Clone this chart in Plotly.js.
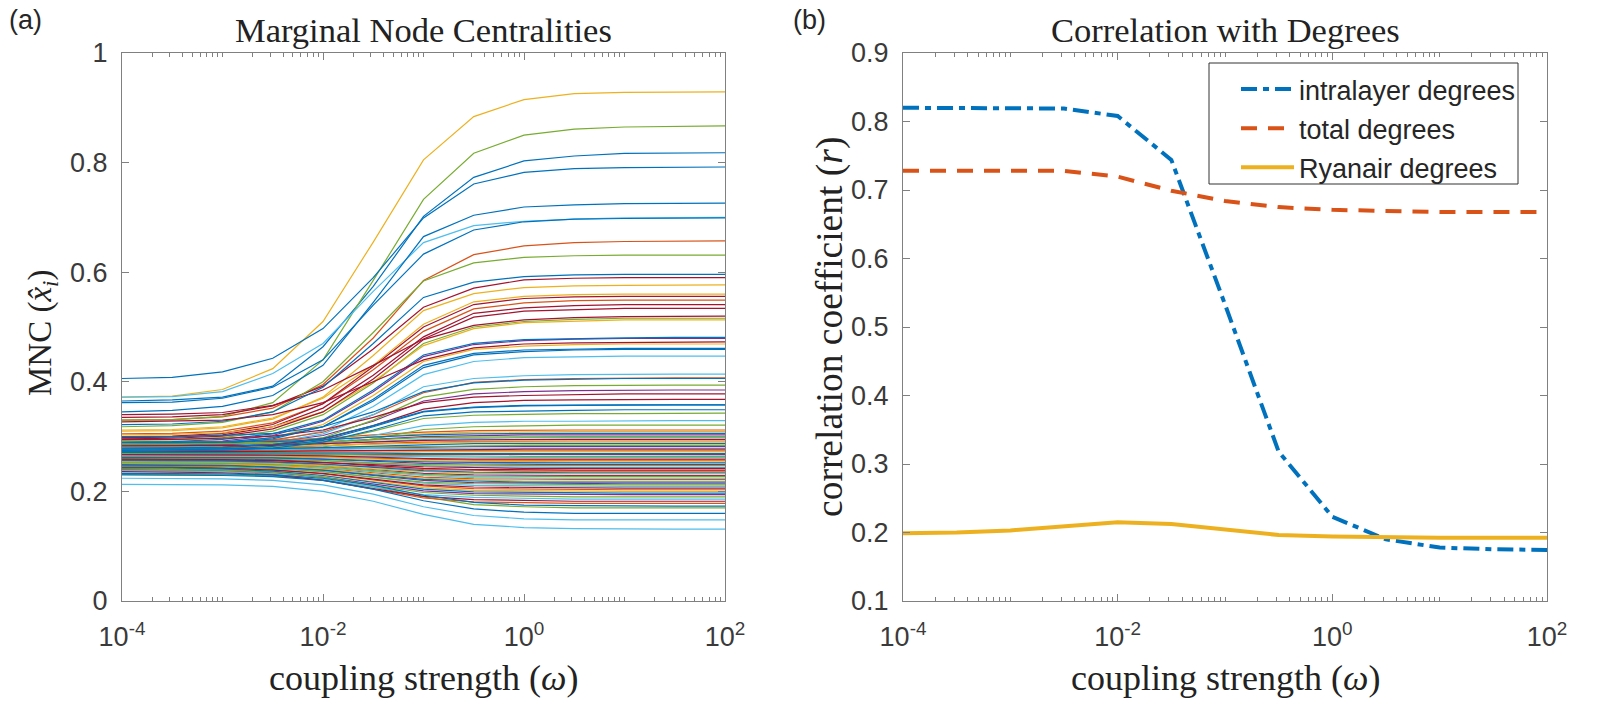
<!DOCTYPE html>
<html>
<head>
<meta charset="utf-8">
<script src="https://cdn.plot.ly/plotly-3.0.1.min.js"></script>
<style>
  html, body { margin: 0; padding: 0; background: #ffffff; }
  #chart { width: 1603px; height: 705px; }
</style>
</head>
<body>
<div id="chart"></div>
<script>
// Coupling strengths, half-decade steps from 10^-4 to 10^2
const omega = [1e-4, 3.1623e-4, 1e-3, 3.1623e-3, 1e-2, 3.1623e-2, 0.1, 0.31623, 1, 3.1623, 10, 31.623, 100];

// Marginal node centralities, one row per airport, grouped by the colour they are drawn in
const mncBlue = [
  [0.365,0.367,0.372,0.392,0.464,0.574,0.702,0.773,0.803,0.812,0.817,0.818,0.818],
  [0.406,0.408,0.418,0.443,0.497,0.590,0.699,0.761,0.782,0.789,0.791,0.792,0.792],
  [0.345,0.348,0.355,0.375,0.430,0.545,0.665,0.704,0.719,0.723,0.725,0.726,0.726],
  [0.362,0.363,0.370,0.390,0.440,0.540,0.633,0.677,0.692,0.697,0.698,0.699,0.699],
  [0.322,0.323,0.328,0.345,0.390,0.470,0.554,0.582,0.592,0.595,0.596,0.596,0.596],
  [0.290,0.291,0.295,0.305,0.330,0.385,0.449,0.470,0.477,0.479,0.480,0.481,0.481],
  [0.283,0.284,0.287,0.296,0.318,0.368,0.430,0.452,0.458,0.460,0.461,0.461,0.461],
  [0.286,0.287,0.290,0.298,0.318,0.365,0.426,0.449,0.455,0.458,0.459,0.459,0.459],
  [0.300,0.300,0.302,0.306,0.318,0.345,0.382,0.398,0.403,0.405,0.406,0.406,0.406],
  [0.275,0.276,0.277,0.282,0.293,0.318,0.345,0.353,0.356,0.357,0.358,0.358,0.358],
  [0.279,0.279,0.281,0.286,0.297,0.320,0.346,0.354,0.357,0.358,0.358,0.358,0.358],
  [0.273,0.274,0.275,0.279,0.290,0.312,0.338,0.345,0.347,0.348,0.349,0.349,0.349],
  [0.289,0.289,0.290,0.291,0.294,0.299,0.303,0.305,0.306,0.306,0.306,0.306,0.306],
  [0.277,0.277,0.277,0.278,0.280,0.283,0.285,0.287,0.287,0.287,0.287,0.287,0.287],
  [0.271,0.271,0.271,0.271,0.270,0.270,0.269,0.269,0.269,0.269,0.269,0.269,0.269],
  [0.262,0.262,0.262,0.261,0.259,0.256,0.254,0.253,0.252,0.252,0.252,0.252,0.252],
  [0.257,0.257,0.256,0.254,0.250,0.244,0.238,0.235,0.234,0.234,0.234,0.234,0.234],
  [0.248,0.248,0.247,0.244,0.239,0.230,0.222,0.219,0.217,0.217,0.217,0.217,0.217],
  [0.243,0.243,0.241,0.237,0.229,0.216,0.204,0.199,0.198,0.197,0.197,0.197,0.197],
  [0.230,0.230,0.229,0.227,0.220,0.204,0.183,0.168,0.162,0.160,0.160,0.160,0.160],
  [0.233,0.233,0.232,0.230,0.224,0.211,0.193,0.180,0.175,0.174,0.173,0.173,0.173]
];
const mncOrange = [
  [0.330,0.331,0.336,0.352,0.395,0.480,0.585,0.632,0.648,0.654,0.656,0.657,0.657],
  [0.305,0.306,0.310,0.325,0.360,0.422,0.492,0.533,0.544,0.548,0.549,0.549,0.549],
  [0.285,0.286,0.288,0.294,0.308,0.340,0.380,0.399,0.404,0.406,0.407,0.407,0.407],
  [0.290,0.290,0.291,0.293,0.297,0.303,0.308,0.311,0.312,0.312,0.312,0.312,0.312],
  [0.279,0.279,0.280,0.281,0.283,0.287,0.290,0.291,0.292,0.292,0.292,0.292,0.292],
  [0.274,0.274,0.274,0.274,0.274,0.274,0.274,0.274,0.274,0.274,0.274,0.274,0.274],
  [0.264,0.264,0.264,0.263,0.262,0.260,0.258,0.257,0.257,0.257,0.257,0.257,0.257],
  [0.256,0.256,0.255,0.254,0.250,0.245,0.240,0.238,0.237,0.237,0.237,0.237,0.237],
  [0.250,0.250,0.249,0.247,0.242,0.234,0.226,0.223,0.222,0.222,0.222,0.222,0.222],
  [0.245,0.245,0.243,0.240,0.232,0.221,0.210,0.205,0.204,0.203,0.203,0.203,0.203],
  [0.239,0.238,0.237,0.232,0.221,0.204,0.188,0.181,0.179,0.178,0.178,0.178,0.178]
];
const mncYellow = [
  [0.372,0.374,0.386,0.424,0.510,0.655,0.805,0.884,0.915,0.926,0.928,0.929,0.929],
  [0.310,0.311,0.316,0.332,0.372,0.448,0.530,0.561,0.572,0.575,0.576,0.577,0.577],
  [0.312,0.313,0.318,0.334,0.370,0.430,0.505,0.546,0.556,0.559,0.560,0.560,0.560],
  [0.303,0.304,0.307,0.318,0.345,0.400,0.466,0.497,0.508,0.511,0.513,0.513,0.513],
  [0.284,0.285,0.288,0.298,0.322,0.375,0.437,0.459,0.465,0.468,0.469,0.469,0.469],
  [0.287,0.287,0.288,0.290,0.294,0.300,0.305,0.308,0.309,0.309,0.309,0.309,0.309],
  [0.281,0.281,0.281,0.282,0.284,0.286,0.289,0.290,0.290,0.290,0.290,0.290,0.290],
  [0.270,0.270,0.270,0.270,0.271,0.271,0.272,0.272,0.272,0.272,0.272,0.272,0.272],
  [0.265,0.265,0.265,0.264,0.262,0.259,0.256,0.255,0.254,0.254,0.254,0.254,0.254],
  [0.254,0.254,0.253,0.251,0.247,0.241,0.236,0.233,0.232,0.232,0.232,0.232,0.232],
  [0.251,0.251,0.250,0.247,0.241,0.232,0.224,0.221,0.219,0.219,0.219,0.219,0.219],
  [0.242,0.242,0.240,0.237,0.229,0.218,0.207,0.202,0.201,0.200,0.200,0.200,0.200]
];
const mncPurple = [
  [0.288,0.289,0.292,0.302,0.328,0.382,0.446,0.468,0.475,0.478,0.479,0.479,0.479],
  [0.282,0.283,0.285,0.290,0.302,0.328,0.365,0.378,0.382,0.384,0.385,0.385,0.385],
  [0.284,0.284,0.285,0.286,0.290,0.295,0.300,0.302,0.303,0.303,0.303,0.303,0.303],
  [0.275,0.275,0.275,0.276,0.277,0.279,0.281,0.282,0.282,0.282,0.282,0.282,0.282],
  [0.268,0.268,0.268,0.268,0.268,0.267,0.267,0.267,0.267,0.267,0.267,0.267,0.267],
  [0.263,0.263,0.262,0.261,0.259,0.255,0.251,0.250,0.249,0.249,0.249,0.249,0.249],
  [0.255,0.255,0.254,0.252,0.247,0.240,0.233,0.230,0.229,0.229,0.229,0.229,0.229],
  [0.249,0.249,0.248,0.245,0.239,0.229,0.220,0.216,0.215,0.214,0.214,0.214,0.214],
  [0.240,0.240,0.238,0.234,0.226,0.213,0.201,0.196,0.195,0.194,0.194,0.194,0.194]
];
const mncGreen = [
  [0.330,0.331,0.337,0.362,0.440,0.585,0.733,0.817,0.850,0.861,0.865,0.866,0.867],
  [0.318,0.320,0.326,0.345,0.400,0.490,0.584,0.617,0.627,0.630,0.631,0.631,0.631],
  [0.293,0.294,0.298,0.310,0.340,0.398,0.470,0.500,0.510,0.514,0.516,0.516,0.516],
  [0.276,0.277,0.279,0.285,0.298,0.330,0.372,0.386,0.391,0.393,0.394,0.394,0.394],
  [0.274,0.275,0.276,0.280,0.290,0.310,0.333,0.339,0.341,0.342,0.342,0.343,0.343],
  [0.270,0.270,0.271,0.274,0.281,0.296,0.313,0.318,0.320,0.321,0.321,0.321,0.321],
  [0.231,0.231,0.230,0.228,0.222,0.208,0.190,0.176,0.172,0.170,0.170,0.170,0.170],
  [0.286,0.286,0.287,0.288,0.290,0.294,0.298,0.299,0.300,0.300,0.300,0.300,0.300],
  [0.278,0.278,0.278,0.279,0.280,0.281,0.283,0.284,0.284,0.284,0.284,0.284,0.284],
  [0.269,0.269,0.269,0.268,0.268,0.266,0.265,0.264,0.264,0.264,0.264,0.264,0.264],
  [0.260,0.260,0.259,0.258,0.256,0.252,0.249,0.248,0.247,0.247,0.247,0.247,0.247],
  [0.252,0.252,0.251,0.249,0.245,0.238,0.231,0.228,0.227,0.227,0.227,0.227,0.227],
  [0.246,0.246,0.245,0.242,0.236,0.226,0.217,0.214,0.213,0.212,0.212,0.212,0.212],
  [0.241,0.240,0.239,0.235,0.226,0.211,0.198,0.193,0.191,0.190,0.190,0.190,0.190]
];
const mncCyan = [
  [0.372,0.373,0.382,0.415,0.470,0.565,0.654,0.685,0.693,0.697,0.699,0.700,0.700],
  [0.280,0.281,0.284,0.292,0.310,0.355,0.413,0.437,0.444,0.446,0.447,0.447,0.447],
  [0.279,0.280,0.282,0.289,0.305,0.340,0.391,0.406,0.411,0.413,0.414,0.414,0.414],
  [0.271,0.272,0.273,0.277,0.285,0.302,0.320,0.326,0.328,0.328,0.329,0.329,0.329],
  [0.224,0.224,0.223,0.220,0.212,0.195,0.172,0.156,0.150,0.148,0.148,0.148,0.148],
  [0.213,0.213,0.212,0.209,0.200,0.182,0.158,0.140,0.134,0.132,0.131,0.131,0.131],
  [0.282,0.282,0.283,0.284,0.287,0.291,0.295,0.297,0.298,0.298,0.298,0.298,0.298],
  [0.276,0.276,0.276,0.276,0.277,0.278,0.279,0.279,0.279,0.279,0.279,0.279,0.279],
  [0.266,0.266,0.266,0.266,0.265,0.264,0.263,0.262,0.262,0.262,0.262,0.262,0.262],
  [0.261,0.261,0.260,0.259,0.256,0.251,0.247,0.245,0.244,0.244,0.244,0.244,0.244],
  [0.253,0.253,0.252,0.250,0.244,0.236,0.229,0.225,0.224,0.224,0.224,0.224,0.224],
  [0.247,0.247,0.245,0.242,0.236,0.225,0.215,0.211,0.210,0.209,0.209,0.209,0.209],
  [0.238,0.237,0.236,0.232,0.222,0.208,0.194,0.189,0.187,0.186,0.186,0.186,0.186]
];
const mncRed = [
  [0.335,0.336,0.340,0.356,0.392,0.460,0.536,0.571,0.586,0.589,0.590,0.590,0.590],
  [0.300,0.301,0.306,0.322,0.360,0.428,0.500,0.541,0.552,0.555,0.556,0.556,0.556],
  [0.298,0.299,0.303,0.318,0.352,0.412,0.482,0.525,0.535,0.539,0.541,0.541,0.541],
  [0.340,0.341,0.344,0.357,0.385,0.430,0.478,0.518,0.529,0.532,0.534,0.534,0.534],
  [0.296,0.297,0.301,0.314,0.345,0.405,0.477,0.503,0.513,0.517,0.519,0.519,0.520],
  [0.327,0.328,0.330,0.340,0.362,0.400,0.440,0.462,0.469,0.471,0.472,0.473,0.473],
  [0.295,0.295,0.297,0.301,0.312,0.335,0.362,0.372,0.375,0.377,0.378,0.378,0.378],
  [0.278,0.279,0.280,0.285,0.296,0.320,0.350,0.362,0.366,0.367,0.368,0.368,0.368],
  [0.283,0.283,0.283,0.284,0.287,0.290,0.293,0.294,0.295,0.295,0.295,0.295,0.295],
  [0.272,0.272,0.272,0.273,0.274,0.275,0.276,0.277,0.277,0.277,0.277,0.277,0.277],
  [0.267,0.267,0.267,0.266,0.265,0.262,0.260,0.259,0.259,0.259,0.259,0.259,0.259],
  [0.258,0.258,0.257,0.256,0.253,0.249,0.245,0.243,0.242,0.242,0.242,0.242,0.242],
  [0.259,0.259,0.258,0.257,0.253,0.247,0.242,0.240,0.239,0.239,0.239,0.239,0.239],
  [0.244,0.244,0.242,0.239,0.233,0.222,0.212,0.208,0.207,0.206,0.206,0.206,0.206],
  [0.236,0.235,0.234,0.230,0.220,0.205,0.191,0.185,0.183,0.182,0.182,0.182,0.182]
];

// Correlation of the marginal node centralities with three degree measures
const corrIntralayer = [0.820,0.820,0.820,0.819,0.808,0.744,0.533,0.318,0.223,0.190,0.178,0.1755,0.1745];
const corrTotal      = [0.728,0.728,0.729,0.728,0.7195,0.699,0.684,0.675,0.671,0.669,0.668,0.668,0.668];
const corrRyanair    = [0.199,0.200,0.203,0.2085,0.215,0.2125,0.2037,0.1963,0.194,0.193,0.1925,0.1925,0.1925];
const corrNames = ['intralayer degrees', 'total degrees', 'Ryanair degrees'];

const xTickVals = [1e-4, 1e-2, 1, 100];
const xTickText = ['10<sup>-4</sup>', '10<sup>-2</sup>', '10<sup>0</sup>', '10<sup>2</sup>'];
const mncTicks = [0, 0.2, 0.4, 0.6, 0.8, 1];
const mncTickText = ['0', '0.2', '0.4', '0.6', '0.8', '1'];
const corrTicks = [0.1, 0.2, 0.3, 0.4, 0.5, 0.6, 0.7, 0.8, 0.9];

// ---- drawing ----
const W = 1603, H = 705;
const px = v => v / W;
const py = v => 1 - v / H;

const palette = {
  blue: '#0072BD', orange: '#D95319', yellow: '#EDB120', purple: '#7E2F8E',
  green: '#77AC30', cyan: '#4DBEEE', red: '#A2142F'
};
const groups = [
  [mncBlue, palette.blue], [mncOrange, palette.orange], [mncYellow, palette.yellow],
  [mncPurple, palette.purple], [mncGreen, palette.green], [mncCyan, palette.cyan],
  [mncRed, palette.red]
];

const traces = [];
const longest = Math.max(...groups.map(g => g[0].length));
for (let i = 0; i < longest; i++) {
  for (const [rows, color] of groups) {
    if (i < rows.length) {
      traces.push({
        x: omega, y: rows[i], type: 'scatter', mode: 'lines',
        line: { color: color, width: 1.2 },
        xaxis: 'x', yaxis: 'y', showlegend: false, hoverinfo: 'skip'
      });
    }
  }
}

const corrSeries = [corrIntralayer, corrTotal, corrRyanair];
const corrStyles = [
  { color: palette.blue, width: 4, dash: '16px,6px,6px,6px' },
  { color: palette.orange, width: 4, dash: '16px,11px' },
  { color: palette.yellow, width: 4 }
];
corrSeries.forEach((ys, k) => {
  traces.push({
    x: omega, y: ys, type: 'scatter', mode: 'lines', name: corrNames[k],
    line: corrStyles[k], xaxis: 'x2', yaxis: 'y2',
    legendgroup: 'g' + k, showlegend: true, hoverinfo: 'skip'
  });
});

// minor tick positions 2..9 x 10^k, plus the unlabeled decades
const minorVals = [];
for (let e = -4; e < 2; e++) {
  for (let m = 1; m <= 9; m++) {
    if (m === 1 && (e === -4 || e === -2 || e === 0)) continue;
    minorVals.push(m * Math.pow(10, e));
  }
}

const axisColor = '#808080';
const sans = 'Liberation Sans, Arial, sans-serif';
const serif = 'Liberation Serif, Times New Roman, serif';
const tickFont = { family: sans, size: 27, color: '#3a3a3a' };

function xAxis(domain, anchor) {
  return {
    type: 'log', range: [-4, 2], domain: domain, anchor: anchor,
    tickmode: 'array', tickvals: xTickVals, ticktext: xTickText,
    ticks: 'inside', ticklen: 7, tickwidth: 1, tickcolor: axisColor,
    minor: { tickmode: 'array', tickvals: minorVals, ticks: 'inside', ticklen: 4, tickwidth: 1, tickcolor: axisColor },
    showline: true, linecolor: axisColor, linewidth: 1, mirror: 'ticks',
    showgrid: false, zeroline: false, tickfont: tickFont,
    ticklabelstandoff: 12, automargin: false, fixedrange: true
  };
}
function yAxis(domain, anchor, range, vals, text) {
  const ax = {
    range: range, domain: domain, anchor: anchor,
    tickmode: 'array', tickvals: vals,
    ticks: 'inside', ticklen: 7, tickwidth: 1, tickcolor: axisColor,
    showline: true, linecolor: axisColor, linewidth: 1, mirror: 'ticks',
    showgrid: false, zeroline: false, tickfont: tickFont,
    ticklabelstandoff: 8, automargin: false, fixedrange: true
  };
  if (text) ax.ticktext = text;
  return ax;
}

const yDomain = [py(601), py(53)];
const labelFont = size => ({ family: serif, size: size, color: '#222222' });

const annotations = [
  { text: '(a)', x: px(7), y: py(20), xanchor: 'left', yanchor: 'middle',
    font: { family: sans, size: 27, color: '#262626' } },
  { text: '(b)', x: px(791), y: py(20), xanchor: 'left', yanchor: 'middle',
    font: { family: sans, size: 27, color: '#262626' } },
  { text: 'Marginal Node Centralities', x: px(423.5), y: py(30), xanchor: 'center', yanchor: 'middle',
    font: labelFont(34.5) },
  { text: 'Correlation with Degrees', x: px(1225), y: py(30), xanchor: 'center', yanchor: 'middle',
    font: labelFont(34.5) },
  { text: 'coupling strength (<i>ω</i>)', x: px(423.5), y: py(678), xanchor: 'center', yanchor: 'middle',
    font: labelFont(36) },
  { text: 'coupling strength (<i>ω</i>)', x: px(1225), y: py(678), xanchor: 'center', yanchor: 'middle',
    font: labelFont(36) },
  { text: 'MNC (<i>x̂</i><sub><i>i</i></sub>)', x: px(42), y: py(333), xanchor: 'center', yanchor: 'middle',
    textangle: -90, font: labelFont(33) },
  { text: 'correlation coefficient (<i>r</i>)', x: px(830), y: py(327), xanchor: 'center', yanchor: 'middle',
    textangle: -90, font: labelFont(37.5) }
].map(a => Object.assign({ xref: 'paper', yref: 'paper', showarrow: false }, a));

// frame of the legend in panel (b)
const shapes = [
  { type: 'rect', xref: 'paper', yref: 'paper',
    x0: px(1209), x1: px(1518), y0: py(184), y1: py(63),
    line: { color: '#333333', width: 1 }, fillcolor: '#ffffff', layer: 'above' }
];

const layout = {
  width: W, height: H,
  margin: { l: 0, r: 0, t: 0, b: 0, pad: 0 },
  paper_bgcolor: '#ffffff', plot_bgcolor: '#ffffff',
  xaxis: xAxis([px(122), px(725)], 'y'),
  yaxis: yAxis(yDomain, 'x', [0, 1], mncTicks, mncTickText),
  xaxis2: xAxis([px(903), px(1547)], 'y2'),
  yaxis2: yAxis(yDomain, 'x2', [0.1, 0.9], corrTicks, null),
  showlegend: true,
  legend: {
    x: px(1236), y: py(65), xanchor: 'left', yanchor: 'top',
    bgcolor: 'rgba(0,0,0,0)', borderwidth: 0,
    font: { family: sans, size: 27, color: '#262626' },
    traceorder: 'grouped', tracegroupgap: 1, itemwidth: 53
  },
  shapes: shapes,
  annotations: annotations
};

Plotly.newPlot('chart', traces, layout, { displayModeBar: false, staticPlot: true });
</script>
</body>
</html>
